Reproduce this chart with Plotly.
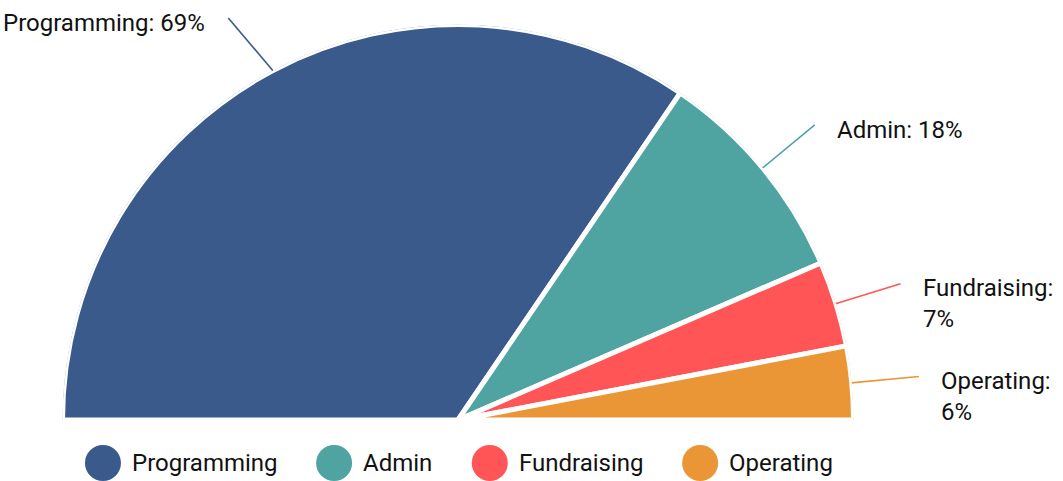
import math
import plotly.graph_objects as go

# ---- data ----
categories = ["Programming", "Admin", "Fundraising", "Operating"]
shares = [69, 18, 7, 6]
colors = ["#3b5a8c", "#4fa4a1", "#ff5556", "#eb9636"]

# ---- layout constants (pixels) ----
W, H = 1063, 481
CX, CY = 458, 420          # centre of the half pie
R_FILL = 393               # visible radius of the slices
STROKE = 5                 # white separators
R = R_FILL + STROKE / 2
FONT = "Roboto"
FS = 24
TEXT_COLOR = "#111111"
LEADER_LEN = 70
TOP_LIMIT = 18
LINE_H = 30
LEGEND_Y = 463
DOT = 36

# Roboto advance widths (units per 2048 em) used to lay out text
ROBOTO = {' ': 507, '%': 1465, ':': 484, 'A': 1336, 'F': 1120, 'O': 1386,
          'P': 1292, 'a': 1089, 'd': 1096, 'e': 1058, 'g': 1122, 'i': 486,
          'm': 1753, 'n': 1104, 'o': 1140, 'p': 1120, 'r': 677, 's': 1056,
          't': 654, 'u': 1103}


def text_width(s, size=FS):
    tot = 0
    for ch in s:
        tot += 1150 if ch.isdigit() else ROBOTO.get(ch, 1100)
    return tot / 2048 * size


total = sum(shares)
spans = [v / total * 180 for v in shares]
thetas, widths = [], []
acc = 180.0
for s in spans:
    thetas.append(acc - s / 2)
    widths.append(s)
    acc -= s

fig = go.Figure()

# half pie as a polar bar chart
fig.add_trace(go.Barpolar(
    r=[1] * len(shares), theta=thetas, width=widths,
    marker=dict(color=colors, line=dict(color="white", width=STROKE)),
    text=categories, hoverinfo="text", showlegend=False,
))

annotations = []

# leader lines and outside labels
for cat, val, col, th in zip(categories, shares, colors, thetas):
    a = math.radians(th)
    r1 = R_FILL + 2
    r2 = R_FILL + LEADER_LEN
    x1, y1 = CX + r1 * math.cos(a), CY - r1 * math.sin(a)
    x2, y2 = CX + r2 * math.cos(a), CY - r2 * math.sin(a)
    if y2 < TOP_LIMIT:
        s = (CY - TOP_LIMIT) / r2
        c = math.sqrt(max(0.0, 1 - s * s)) * (1 if math.cos(a) >= 0 else -1)
        x2, y2 = CX + r2 * c, TOP_LIMIT
    fig.add_trace(go.Scatter(
        x=[x1, x2], y=[y1, y2], mode="lines",
        line=dict(color=col, width=1.6), hoverinfo="skip", showlegend=False,
        xaxis="x", yaxis="y",
    ))
    label = f"{cat}: {val}%"
    right = x2 >= CX
    if right:
        tx = x2 + 20
        if tx + text_width(label) > W - 2:
            label = f"{cat}:<br>{val}%"
        xanchor = "left"
    else:
        tx = x2 - 21
        xanchor = "right"
    n = label.count("<br>") + 1
    ty = y2 + 5 + (n - 1) * LINE_H / 2
    annotations.append(dict(
        x=tx, y=ty, xref="x", yref="y", text=label, showarrow=False,
        xanchor=xanchor, yanchor="middle", align="left",
        font=dict(family=FONT, size=FS, color=TEXT_COLOR),
    ))

# custom legend with large dots, centred under the pie
GAP_TEXT = 11
GAP_ITEM = 41
item_w = [DOT + GAP_TEXT + text_width(c) for c in categories]
legend_w = sum(item_w) + GAP_ITEM * (len(categories) - 1)
x = CX - legend_w / 2
dot_x = []
for cat, iw in zip(categories, item_w):
    dot_x.append(x + DOT / 2)
    annotations.append(dict(
        x=x + DOT + GAP_TEXT - 2, y=LEGEND_Y, xref="x", yref="y", text=cat,
        showarrow=False, xanchor="left", yanchor="middle",
        font=dict(family=FONT, size=FS, color=TEXT_COLOR),
    ))
    x += iw + GAP_ITEM

fig.add_trace(go.Scatter(
    x=dot_x, y=[LEGEND_Y] * len(categories), mode="markers",
    marker=dict(size=DOT, color=colors, line=dict(width=0)),
    text=categories, hoverinfo="text", showlegend=False,
    xaxis="x", yaxis="y", cliponaxis=False,
))

fig.update_layout(
    width=W, height=H,
    margin=dict(l=0, r=0, t=0, b=0),
    paper_bgcolor="white",
    plot_bgcolor="rgba(0,0,0,0)",
    showlegend=False,
    font=dict(family=FONT, size=FS, color=TEXT_COLOR),
    polar=dict(
        domain=dict(x=[(CX - R) / W, (CX + R) / W],
                    y=[1 - CY / H, 1 - (CY - R) / H]),
        sector=[0, 180],
        bgcolor="rgba(0,0,0,0)",
        bargap=0,
        radialaxis=dict(range=[0, 1], visible=False),
        angularaxis=dict(visible=False, rotation=0, direction="counterclockwise"),
    ),
    xaxis=dict(range=[0, W], visible=False, domain=[0, 1], fixedrange=True),
    yaxis=dict(range=[H, 0], visible=False, domain=[0, 1], fixedrange=True),
    annotations=annotations,
)

fig.write_html(
    "out.html",
    config={"displayModeBar": False},
    post_script="document.body.style.margin='0';document.body.style.overflow='hidden';",
)
